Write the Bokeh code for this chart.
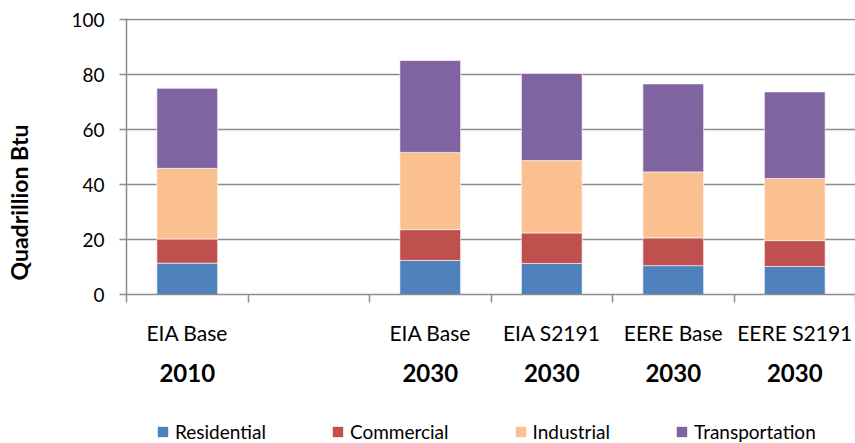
from bokeh.plotting import figure
from bokeh.models import Range1d, FixedTicker, LinearAxis, Legend, LegendItem, Title
from bokeh.layouts import column
from bokeh.embed import file_html
from bokeh.resources import INLINE

# ---- data ----
slots = ["EIA Base|2010", None, "EIA Base|2030", "EIA S2191|2030", "EERE Base|2030", "EERE S2191|2030"]
scenarios = ["EIA Base", "EIA Base", "EIA S2191", "EERE Base", "EERE S2191"]
years = ["2010", "2030", "2030", "2030", "2030"]
series = ["Residential", "Commercial", "Industrial", "Transportation"]
residential = [11.4, 12.4, 11.3, 10.5, 10.2]
commercial = [8.8, 11.2, 11.1, 10.1, 9.4]
industrial = [25.7, 28.1, 26.3, 24.0, 22.6]
transportation = [29.1, 33.4, 31.7, 32.0, 31.5]
y_ticks = [0, 20, 40, 60, 80, 100]
y_title = "Quadrillion Btu"
colors = ["#4F81BD", "#C0504D", "#FAC090", "#8064A2"]

xs = [i + 0.5 for i, s in enumerate(slots) if s is not None]
boundaries = list(range(len(slots) + 1))

FONT = "Lato"
GRAY = "#8c8c8c"

p = figure(width=855, height=417, output_backend="svg", toolbar_location=None,
           x_range=Range1d(0, len(slots)), y_range=Range1d(0, 100.4),
           min_border_left=126, min_border_right=0, min_border_top=18, min_border_bottom=123)
p.outline_line_color = None
p.background_fill_color = "white"
p.border_fill_color = "white"

data = dict(x=xs, Residential=residential, Commercial=commercial,
            Industrial=industrial, Transportation=transportation)
rs = p.vbar_stack(series, x="x", width=0.5, source=data, color=colors,
                  line_color="white", line_alpha=0.6, line_width=1)

# grid
p.xgrid.visible = False
p.ygrid.ticker = FixedTicker(ticks=y_ticks)
p.ygrid.grid_line_color = GRAY
p.ygrid.grid_line_width = 1.5

# y axis
ya = p.yaxis[0]
ya.ticker = FixedTicker(ticks=y_ticks)
ya.axis_line_color = GRAY
ya.axis_line_width = 1.5
ya.major_tick_line_color = GRAY
ya.major_tick_line_width = 1.5
ya.major_tick_out = 7
ya.major_tick_in = 0
ya.minor_tick_line_color = None
ya.major_label_standoff = 15
ya.major_label_text_font = FONT
ya.major_label_text_font_size = "19px"
ya.major_label_text_color = "black"
# blank axis label only reserves room between tick labels and the title
ya.axis_label = "\u00a0"
ya.axis_label_standoff = 8
ya.axis_label_text_font = FONT
ya.axis_label_text_font_size = "19px"

ytitle = Title(text=y_title, align="left", offset=14, vertical_align="top",
               standoff=0, text_font=FONT, text_font_size="23px",
               text_font_style="bold", text_color="black")
p.add_layout(ytitle, "left")

# x axis: boundary ticks only
xa = p.xaxis[0]
xa.ticker = FixedTicker(ticks=boundaries)
xa.axis_line_color = GRAY
xa.axis_line_width = 1.5
xa.major_tick_line_color = GRAY
xa.major_tick_line_width = 1.5
xa.major_tick_out = 8
xa.major_tick_in = 0
xa.minor_tick_line_color = None
xa.major_label_overrides = {b: "" for b in boundaries}
xa.major_label_standoff = 0

# scenario labels
ax_cat = LinearAxis(ticker=FixedTicker(ticks=xs),
                    major_label_overrides={x: s for x, s in zip(xs, scenarios)})
ax_cat.axis_line_color = None
ax_cat.major_tick_line_color = None
ax_cat.major_tick_out = 0
ax_cat.major_tick_in = 0
ax_cat.minor_tick_line_color = None
ax_cat.major_label_standoff = 17
ax_cat.major_label_text_font = FONT
ax_cat.major_label_text_font_size = "21px"
ax_cat.major_label_text_color = "black"
p.add_layout(ax_cat, "below")

# year labels
ax_year = LinearAxis(ticker=FixedTicker(ticks=xs),
                     major_label_overrides={x: y for x, y in zip(xs, years)})
ax_year.axis_line_color = None
ax_year.major_tick_line_color = None
ax_year.major_tick_out = 0
ax_year.major_tick_in = 0
ax_year.minor_tick_line_color = None
ax_year.major_label_standoff = 16
ax_year.major_label_text_font = FONT
ax_year.major_label_text_font_size = "24px"
ax_year.major_label_text_font_style = "bold"
ax_year.major_label_text_color = "black"
p.add_layout(ax_year, "below")

# legend strip below the chart (its bars lie far outside its visible y range)
q = figure(width=855, height=26, output_backend="svg", toolbar_location=None,
           x_range=Range1d(0, len(slots)), y_range=Range1d(1000, 1001),
           min_border_left=0, min_border_right=0, min_border_top=0, min_border_bottom=0)
q.axis.visible = False
q.grid.visible = False
q.outline_line_color = None
q.border_fill_color = "white"
q.background_fill_color = "white"
legend_rs = q.vbar_stack(series, x="x", width=0.5, source=data, color=colors,
                         line_color=None)
legend = Legend(items=[LegendItem(label=s, renderers=[r]) for s, r in zip(series, legend_rs)],
                orientation="horizontal", location=(30, 0),
                border_line_color=None, background_fill_alpha=0,
                label_text_font=FONT, label_text_font_size="19px", label_text_color="black",
                glyph_width=13, glyph_height=13, label_standoff=6, spacing=65,
                margin=0, padding=2)
q.add_layout(legend, "center")

layout = column(p, q, spacing=0)
open("out.html", "w").write(file_html(layout, INLINE))
